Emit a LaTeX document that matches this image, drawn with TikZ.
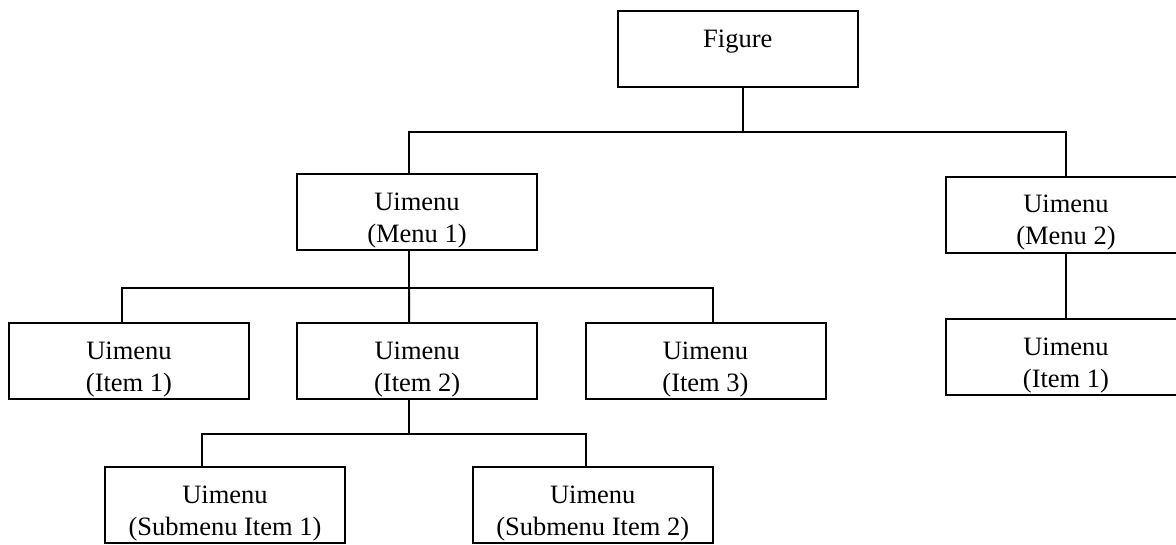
\documentclass[tikz,border=0pt]{standalone}
\usepackage{fontspec}
\setmainfont{Liberation Serif}
\begin{document}
\begin{tikzpicture}[x=1pt,y=-1pt,
  box/.style={draw, line width=2pt, minimum width=240pt, minimum height=76pt, inner sep=0pt},
  lbl/.style={font=\fontsize{26.5}{32}\selectfont, align=center, inner sep=0pt, anchor=north},
  conn/.style={line width=2pt}]
\useasboundingbox (0,0) rectangle (1176,545);
% boxes
\node[box] (fig) at (737.8,49.2) {};
\node[box] (m1) at (417,212.5) {};
\node[box] (m2) at (1066,214.7) {};
\node[box] (i1) at (129,361) {};
\node[box] (i2) at (417.2,361.3) {};
\node[box] (i3) at (705.5,361) {};
\node[box] (ri1) at (1066,357.2) {};
\node[box] (sub1) at (225,505) {};
\node[box] (sub2) at (592.7,505) {};
% labels
\node[lbl] (tfig) at ([yshift=-19.5pt]fig.north) {Figure};
\node[lbl] (tm1) at ([yshift=-19.5pt]m1.north) {Uimenu\\(Menu 1)};
\node[lbl] (tm2) at ([yshift=-19.5pt]m2.north) {Uimenu\\(Menu 2)};
\node[lbl] (ti1) at ([yshift=-19.5pt]i1.north) {Uimenu\\(Item 1)};
\node[lbl] (ti2) at ([yshift=-19.5pt]i2.north) {Uimenu\\(Item 2)};
\node[lbl] (ti3) at ([yshift=-19.5pt]i3.north) {Uimenu\\(Item 3)};
\node[lbl] (tri1) at ([yshift=-19.5pt]ri1.north) {Uimenu\\(Item 1)};
\node[lbl] (tsub1) at ([yshift=-19.5pt]sub1.north) {Uimenu\\(Submenu Item 1)};
\node[lbl] (tsub2) at ([yshift=-19.5pt]sub2.north) {Uimenu\\(Submenu Item 2)};
% connectors
\draw[conn] ([xshift=5.2pt]fig.south) -- ++(0,43.5) coordinate (s0);
\draw[conn] ([xshift=-8pt]m1.north) |- (s0) -| (m2.north);
\draw[conn] ([xshift=-8pt]m1.south) -- ++(0,36.3) coordinate (s1);
\draw[conn] ([xshift=-7pt]i1.north) |- (s1) -| ([xshift=7.5pt]i3.north);
\draw[conn] (s1) -- ([xshift=-8pt]i2.north);
\draw[conn] ([xshift=-8pt]i2.south) -- ++(0,33.7) coordinate (s2);
\draw[conn] ([xshift=-23pt]sub1.north) |- (s2) -| ([xshift=-6.7pt]sub2.north);
\draw[conn] (m2.south) -- (ri1.north);
\end{tikzpicture}
\end{document}
